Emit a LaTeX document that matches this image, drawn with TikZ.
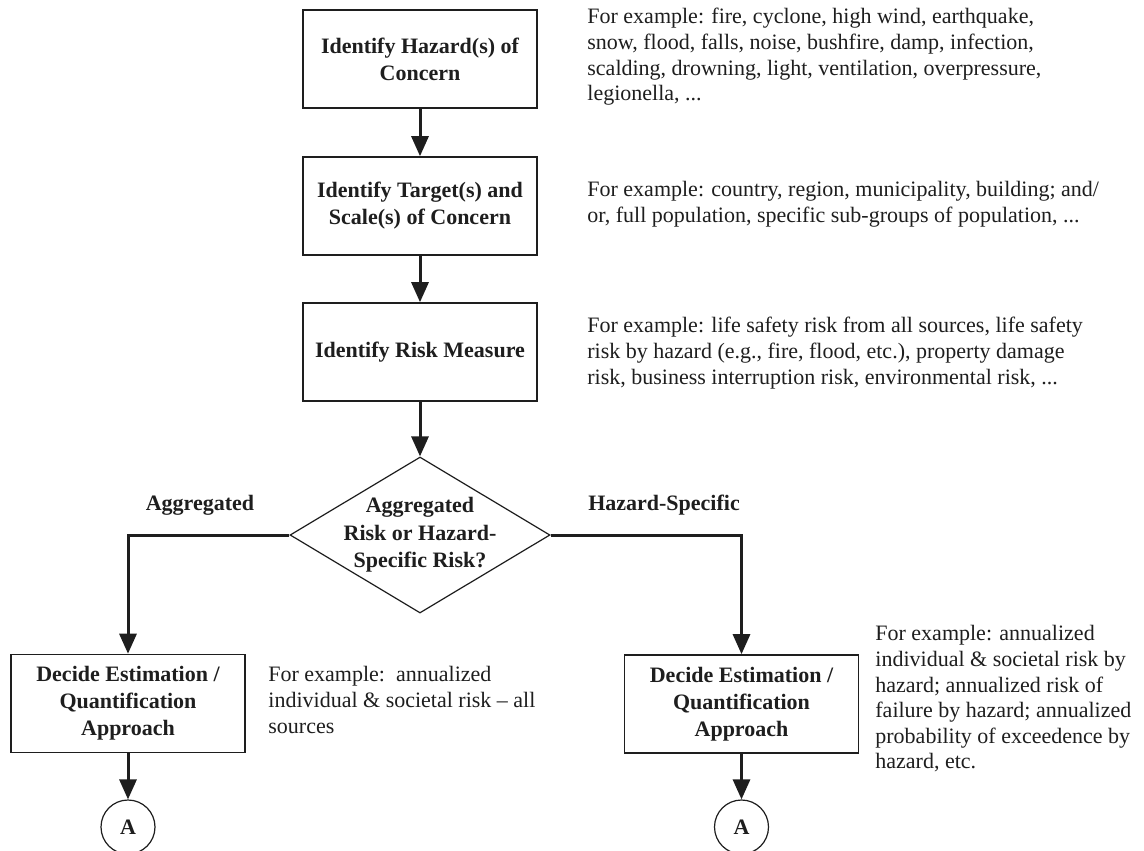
\documentclass[tikz,border=0pt]{standalone}
\usepackage{fontspec}
\setmainfont{Liberation Serif}
\usetikzlibrary{arrows.meta,shapes.geometric}
\definecolor{ink}{HTML}{1E1E1E}
\begin{document}
\begin{tikzpicture}[x=0.5pt,y=-0.5pt,
  box/.style={draw=ink, line width=0.8pt, minimum width=117pt, minimum height=49pt, inner sep=0pt, align=center, text=ink, font=\fontsize{11pt}{13.5pt}\selectfont\bfseries},
  boxtext/.style={inner sep=0pt, align=center, text=ink, font=\fontsize{11pt}{13.7pt}\selectfont\bfseries},
  note/.style={anchor=west, align=left, inner sep=0pt, text=ink, font=\fontsize{11pt}{12.8pt}\selectfont},
  conn/.style={draw=ink, line width=1.5pt, -{Triangle[width=8.5pt,length=10pt]}},
  lbl/.style={inner sep=0pt, text=ink, font=\fontsize{11pt}{13pt}\selectfont\bfseries},
  conncirc/.style={circle, draw=ink, line width=0.6pt, minimum size=27pt, inner sep=0pt, text=ink, font=\fontsize{11pt}{13pt}\selectfont\bfseries}
]
\useasboundingbox[fill=white] (0,0) rectangle (1144,850);

% main column
\node[box] (b1) at (420,59) {Identify Hazard(s) of\\Concern};
\node[box] (b2) at (420,206) {Identify Target(s) and\\Scale(s) of Concern};
\node[box] (b3) at (420,352) {Identify Risk Measure};
\node[diamond, draw=ink, line width=0.6pt, minimum width=130pt, minimum height=78pt, inner sep=0pt] (dec) at (420,535) {};
\node[boxtext] (dect) at (dec.center) {Aggregated\\Risk or Hazard-\\Specific Risk?};

% branches
\node[box] (lb) at (128,703.5) {Decide Estimation /\\Quantification\\Approach};
\node[box] (rb) at (741.5,704) {Decide Estimation /\\Quantification\\Approach};
\node[conncirc] (lc) at (128,827) {A};
\node[conncirc] (rc) at (741.5,827) {A};

\node[lbl] (la) at (200,505) {Aggregated};
\node[lbl] (lh) at (664,505) {Hazard-Specific};

% notes
\node[note] (n1) at (587,57) {For example: fire, cyclone, high wind, earthquake,\\snow, flood, falls, noise, bushfire, damp, infection,\\scalding, drowning, light, ventilation, overpressure,\\legionella, ...};
\node[note] (n2) at (587,204) {For example: country, region, municipality, building; and/\\or, full population, specific sub-groups of population, ...};
\node[note] (n3) at (587,353) {For example: life safety risk from all sources, life safety\\risk by hazard (e.g., fire, flood, etc.), property damage\\risk, business interruption risk, environmental risk, ...};
\node[note] (n4) at (268,700) {For example:\ \ annualized\\individual \& societal risk \textendash{} all\\sources};
\node[note] (n5) at (875,699) {For example: annualized\\individual \& societal risk by\\hazard; annualized risk of\\failure by hazard; annualized\\probability of exceedence by\\hazard, etc.};

% connectors
\draw[conn] (b1) -- (b2);
\draw[conn] (b2) -- (b3);
\draw[conn] (b3) -- (dec.north);
\draw[conn] (dec.west) -| (lb.north);
\draw[conn] (dec.east) -| (rb.north);
\draw[conn] (lb) -- (lc);
\draw[conn] (rb) -- (rc);
\end{tikzpicture}
\end{document}
